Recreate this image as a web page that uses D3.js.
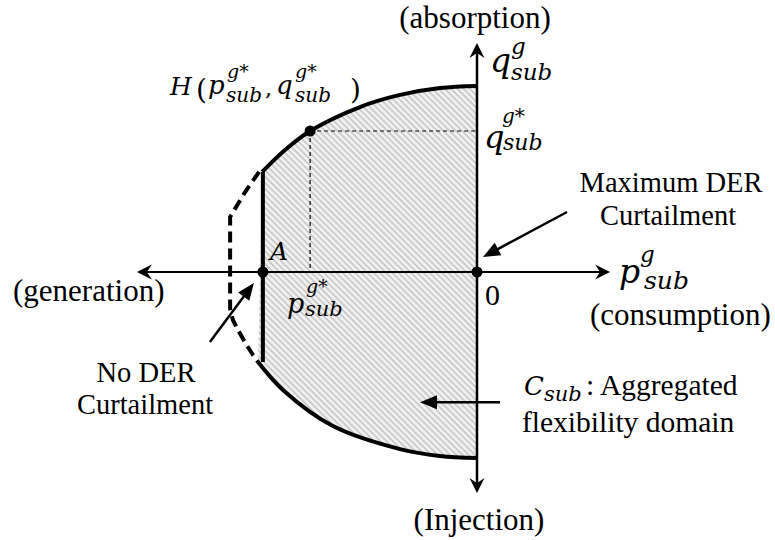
<!DOCTYPE html>
<html>
<head>
<meta charset="utf-8">
<script src="https://cdn.jsdelivr.net/npm/d3@7"></script>
<style>
  html, body { margin: 0; padding: 0; background: #fff; }
  svg { display: block; }
</style>
</head>
<body>
<svg id="chart" width="775" height="540"></svg>
<script>
// Aggregated P-Q flexibility domain at the substation (per-unit of the capability limits)

// Axis extents (p: active power, q: reactive power)
const pAxisExtent = [-1.339, 0.524];
const qAxisExtent = [-1.188, 1.231];

// Upper boundary of the domain (absorption side), from the q-axis to point A's abscissa
const topArcP = [0, -0.146, -0.303, -0.461, -0.657, -0.756, -0.846];
const topArcQ = [1.0, 0.989, 0.952, 0.887, 0.758, 0.656, 0.538];

// Lower boundary of the domain (injection side)
const bottomArcP = [-0.862, -0.764, -0.567, -0.303, -0.146, 0];
const bottomArcQ = [-0.484, -0.634, -0.828, -0.952, -0.989, -1.0];

// Boundary without DER curtailment (dashed)
const noCurtailP = [-0.858, -0.913, -0.972, -0.972, -0.961, -0.941, -0.921, -0.902, -0.882, -0.862];
const noCurtailQ = [0.538, 0.430, 0.296, -0.199, -0.258, -0.312, -0.360, -0.403, -0.446, -0.484];

// Characteristic points
const pointNames = ["A", "H", "O"];
const pointP = [-0.843, -0.657, 0];
const pointQ = [0, 0.758, 0];

// Text
const dirLabels = ["(absorption)", "(generation)", "(consumption)", "(Injection)"];
const maxDerLines = ["Maximum DER", "Curtailment"];
const noDerLines = ["No DER", "Curtailment"];
const domainLines = [": Aggregated", "flexibility domain"];

const SERIF = "'Liberation Serif', 'Times New Roman', serif";
const MATH = "'DejaVu Serif', serif";

const svg = d3.select("#chart");

const x = d3.scaleLinear().domain([-1, 0]).range([223, 477]);
const y = d3.scaleLinear().domain([-1, 1]).range([458, 86]);

const zip = (ps, qs) => ps.map((p, i) => [p, qs[i]]);
const topArc = zip(topArcP, topArcQ);
const bottomArc = zip(bottomArcP, bottomArcQ);
const noCurtail = zip(noCurtailP, noCurtailQ);

const smooth = d3.line().x(d => x(d[0])).y(d => y(d[1])).curve(d3.curveCatmullRom.alpha(0.5));
const straight = d3.line().x(d => x(d[0])).y(d => y(d[1]));

// hatch pattern
const defs = svg.append("defs");
const pat = defs.append("pattern")
  .attr("id", "hatch")
  .attr("patternUnits", "userSpaceOnUse")
  .attr("width", 4.4).attr("height", 4.4)
  .attr("patternTransform", "rotate(-45)");
pat.append("rect").attr("width", 4.4).attr("height", 4.4).attr("fill", "#f1f1f1");
pat.append("line").attr("x1", 1).attr("x2", 1).attr("y1", 0).attr("y2", 4.4)
  .attr("stroke", "#bdbdbd").attr("stroke-width", 1.3);

// domain fill
const fillD = smooth(topArc) + smooth(bottomArc).replace(/^M/, "L") + "Z";
svg.append("path").attr("d", fillD).attr("fill", "url(#hatch)").attr("stroke", "none");

// projection guides from H
const pH = pointP[1], qH = pointQ[1];
svg.append("path")
  .attr("d", straight([[pH, qH], [0, qH]]) + straight([[pH, qH], [pH, 0]]))
  .attr("fill", "none").attr("stroke", "#000").attr("stroke-width", 1.2)
  .attr("stroke-dasharray", "4,3");

// arrowhead helper (stealth when notch > 0)
function head(tip, from, len, hw, notch) {
  const dx = tip[0] - from[0], dy = tip[1] - from[1];
  const L = Math.hypot(dx, dy), ux = dx / L, uy = dy / L;
  const px = -uy, py = ux;
  const bx = tip[0] - ux * len, by = tip[1] - uy * len;
  const pts = [tip, [bx + px * hw, by + py * hw]];
  if (notch > 0) pts.push([tip[0] - ux * (len - notch), tip[1] - uy * (len - notch)]);
  pts.push([bx - px * hw, by - py * hw]);
  return "M" + pts.map(p => p.join(",")).join("L") + "Z";
}

// axes
const x0 = x(0), y0 = y(0);
const xl = x(pAxisExtent[0]), xr = x(pAxisExtent[1]);
const yt = y(qAxisExtent[1]), yb = y(qAxisExtent[0]);
svg.append("line").attr("x1", xl + 4).attr("x2", xr - 4).attr("y1", y0).attr("y2", y0)
  .attr("stroke", "#000").attr("stroke-width", 2);
svg.append("line").attr("x1", x0).attr("x2", x0).attr("y1", yt + 4).attr("y2", yb - 4)
  .attr("stroke", "#000").attr("stroke-width", 2.5);
const axHeads = [
  [[xl, y0], [x0, y0]], [[xr, y0], [x0, y0]],
  [[x0, yt], [x0, y0]], [[x0, yb], [x0, y0]]
];
svg.selectAll(".axhead").data(axHeads).join("path")
  .attr("class", "axhead")
  .attr("d", d => head(d[0], d[1], 15, 7.5, 5))
  .attr("fill", "#000");

// no-curtailment boundary (dashed)
svg.append("path").attr("d", straight(noCurtail))
  .attr("fill", "none").attr("stroke", "#000").attr("stroke-width", 4)
  .attr("stroke-dasharray", "11,6");

// domain boundary
svg.append("path").attr("d", smooth(topArc))
  .attr("fill", "none").attr("stroke", "#000").attr("stroke-width", 4);
svg.append("path").attr("d", smooth(bottomArc))
  .attr("fill", "none").attr("stroke", "#000").attr("stroke-width", 4);
svg.append("line")
  .attr("x1", x(pointP[0])).attr("x2", x(pointP[0]))
  .attr("y1", y(topArcQ[topArcQ.length - 1])).attr("y2", y(bottomArcQ[0]))
  .attr("stroke", "#000").attr("stroke-width", 4);

// points
svg.selectAll(".pt").data(pointNames).join("circle")
  .attr("class", "pt")
  .attr("cx", (d, i) => x(pointP[i])).attr("cy", (d, i) => y(pointQ[i]))
  .attr("r", 5.5).attr("fill", "#000");

// annotation arrows
const xA = x(pointP[0]);
const annArrows = [
  { from: [x0 + 90, y0 - 60], to: [x0 + 6, y0 - 15] },
  { from: [xA - 53, y0 + 70], to: [xA - 9, y0 + 11] },
  { from: [x0 + 23, y(-0.70)], to: [x0 - 57, y(-0.70)] }
];
annArrows.forEach(a => {
  const dx = a.to[0] - a.from[0], dy = a.to[1] - a.from[1];
  const L = Math.hypot(dx, dy);
  svg.append("line")
    .attr("x1", a.from[0]).attr("y1", a.from[1])
    .attr("x2", a.to[0] - dx / L * 10).attr("y2", a.to[1] - dy / L * 10)
    .attr("stroke", "#000").attr("stroke-width", 2.5);
  svg.append("path").attr("d", head(a.to, a.from, 17, 7, 0)).attr("fill", "#000");
});

// plain text labels
function txt(str, xx, yy, size, anchor) {
  return svg.append("text")
    .attr("font-family", SERIF)
    .attr("x", xx).attr("y", yy).attr("font-size", size)
    .attr("text-anchor", anchor || "start").attr("fill", "#000").text(str);
}
txt(dirLabels[0], x0 - 2, 28, 31, "middle");
txt(dirLabels[1], 13, 301, 31);
txt(dirLabels[2], 590, 325, 31);
txt(dirLabels[3], x0 + 2, 530, 31, "middle");
txt("0", 485, 305, 30);
txt(maxDerLines[0], 671, 192, 28.5, "middle");
txt(maxDerLines[1], 668, 225, 28.5, "middle");
txt(noDerLines[0], 146, 382, 28.5, "middle");
txt(noDerLines[1], 145, 414, 28.5, "middle");
txt(domainLines[0], 586, 395, 29.5);
txt(domainLines[1], 522, 432, 29.5);

// math labels: base symbol with superscript and subscript
function mtext(str, xx, yy, size, italic) {
  return svg.append("text")
    .attr("font-family", MATH).attr("font-style", italic === false ? "normal" : "italic")
    .attr("x", xx).attr("y", yy).attr("font-size", size).attr("fill", "#000").text(str);
}
function mathLabel(xx, yy, base, size, sup, supX, supY, supSize, sub, subX, subY, subSize) {
  mtext(base, xx, yy, size);
  if (sup) mtext(sup, supX, supY, supSize);
  if (sub) mtext(sub, subX, subY, subSize);
}
// q axis name
mathLabel(490, 72, "q", 33, "g", 511, 54, 23, "sub", 511, 80, 23);
// p axis name
mathLabel(619, 283, "p", 33, "g", 640, 262, 23, "sub", 644, 289, 25);
// q* on the q axis
mathLabel(484, 148, "q", 32, "g*", 502, 123, 20, "sub", 503, 150, 22);
// p* under the p axis
mathLabel(287, 313, "p", 27, "g*", 306, 293, 19, "sub", 305, 316, 21);
// point A
mathLabel(270, 260, "A", 25);
// point H and its coordinates
mathLabel(170, 95, "H", 25);
mtext("(", 196, 99, 28, false);
mathLabel(208, 94, "p", 26, "g*", 227, 78, 19, "sub", 226, 102, 20);
mtext(",", 265, 96, 22, false);
mathLabel(276, 94, "q", 26, "g*", 295, 78, 19, "sub", 295, 102, 20);
mtext(")", 350, 99, 28, false);
// domain symbol
mathLabel(524, 395, "C", 26, null, 0, 0, 0, "sub", 544, 401, 21);
</script>
</body>
</html>
